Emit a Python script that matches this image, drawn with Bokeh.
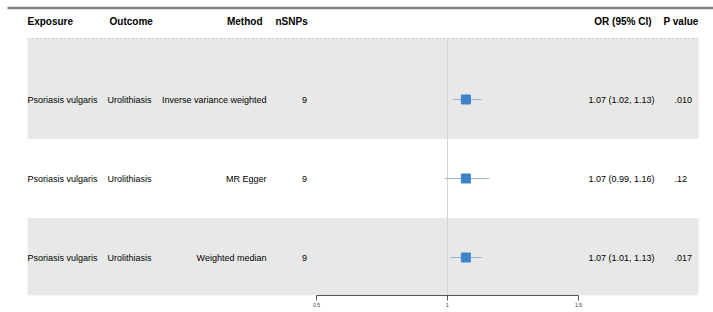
from bokeh.plotting import figure
from bokeh.models import Range1d, LinearAxis, FixedTicker, ColumnDataSource
from bokeh.core.properties import value
from bokeh.embed import file_html
from bokeh.resources import INLINE

# ---------------- data ----------------
exposure = ["Psoriasis vulgaris", "Psoriasis vulgaris", "Psoriasis vulgaris"]
outcome = ["Urolithiasis", "Urolithiasis", "Urolithiasis"]
method = ["Inverse variance weighted", "MR Egger", "Weighted median"]
nsnps = [9, 9, 9]
or_est = [1.07, 1.07, 1.07]
ci_low = [1.02, 0.99, 1.01]
ci_high = [1.13, 1.16, 1.13]
or_text = ["1.07 (1.02, 1.13)", "1.07 (0.99, 1.16)", "1.07 (1.01, 1.13)"]
p_text = [".010", ".12", ".017"]
headers = ["Exposure", "Outcome", "Method", "nSNPs", "OR (95% CI)", "P value"]
tick_values = [0.5, 1, 1.5]
tick_labels = ["0.5", "1", "1.5"]
ref_value = 1

# ---------------- layout ----------------
W, H = 713, 312
FRAME_H = 295
ROW0_PX, ROW_STEP = 99, 79
AX_L, AX_R = 316, 578          # pixel position of 0.5 and 1.5


def row_of(px):
    return 1 + (px - ROW0_PX) / ROW_STEP


rows = [1, 2, 3]
scale = (tick_values[-1] - tick_values[0]) / (AX_R - AX_L)
or_start = tick_values[0] - AX_L * scale
or_end = tick_values[0] + (W - AX_L) * scale

p = figure(width=W, height=H, output_backend="svg", toolbar_location=None,
           x_range=Range1d(0, W), y_range=Range1d(row_of(FRAME_H), row_of(0)),
           min_border_left=0, min_border_right=0, min_border_top=0,
           min_border_bottom=H - FRAME_H, x_axis_location=None, y_axis_location=None)
p.extra_x_ranges = {"or": Range1d(or_start, or_end)}
p.grid.visible = False
p.outline_line_color = None
p.background_fill_color = "white"
p.border_fill_color = "white"

BAND_L, BAND_R = 27, 698
# shaded bands for rows 1 and 3
p.quad(left=[BAND_L, BAND_L], right=[BAND_R, BAND_R],
       top=[row_of(38), 2.5], bottom=[1.5, row_of(FRAME_H)],
       fill_color="#e8e8e8", line_color=None)
# dashed line on top of band
p.segment(x0=[BAND_L], x1=[BAND_R], y0=[row_of(38)], y1=[row_of(38)],
          line_color="#b8b8b8", line_width=0.8, line_dash="2 2")
# top rule
p.segment(x0=[7], x1=[W], y0=[row_of(7.5)], y1=[row_of(7.5)],
          line_color="#808080", line_width=2.5)

# reference line
p.segment(x0=[ref_value], x1=[ref_value], y0=[row_of(38)], y1=[row_of(FRAME_H)],
          line_color="#d4d4d4", line_width=1, x_range_name="or")

# CIs and points
src = ColumnDataSource(dict(y=rows, est=or_est, lo=ci_low, hi=ci_high))
p.segment(x0="lo", x1="hi", y0="y", y1="y", source=src, x_range_name="or",
          line_color="#9db2d8", line_width=1)
p.scatter(x="est", y="y", source=src, x_range_name="or", marker="square",
          size=9, fill_color="#3b84c9", line_color="#3b84c9")

FONT = value("Liberation Sans")
# header
hy = row_of(20.5)
hdr_x = [27, 109, 262, 275, 651, 663]
hdr_align = ["left", "left", "right", "left", "right", "left"]
p.text(x=hdr_x, y=[hy] * 6, text=headers, text_align=hdr_align,
       text_baseline="middle", text_font=FONT, text_font_size="10px",
       text_font_style="bold", text_color="black")

# body columns
def col(x, vals, align):
    p.text(x=[x] * len(vals), y=rows, text=[str(v) for v in vals], text_align=align,
           text_baseline="middle", text_font=FONT, text_font_size="9px",
           text_color="black")

col(27, exposure, "left")
col(107, outcome, "left")
col(266, method, "right")
col(304, nsnps, "center")
col(654, or_text, "right")
col(674, p_text, "left")

# axis
ax = LinearAxis(x_range_name="or", bounds=(tick_values[0], tick_values[-1]),
                ticker=FixedTicker(ticks=tick_values))
ax.major_label_overrides = {t: l for t, l in zip(tick_values, tick_labels)}
ax.minor_tick_line_color = None
ax.major_tick_in = 0
ax.major_tick_out = 5
ax.major_label_standoff = 2
ax.major_label_text_font_size = "5px"
ax.major_label_text_font = "Liberation Sans"
ax.major_label_text_color = "#333333"
ax.axis_line_color = "#555555"
ax.major_tick_line_color = "#555555"
p.add_layout(ax, "below")

open("out.html", "w").write(file_html(p, INLINE))
